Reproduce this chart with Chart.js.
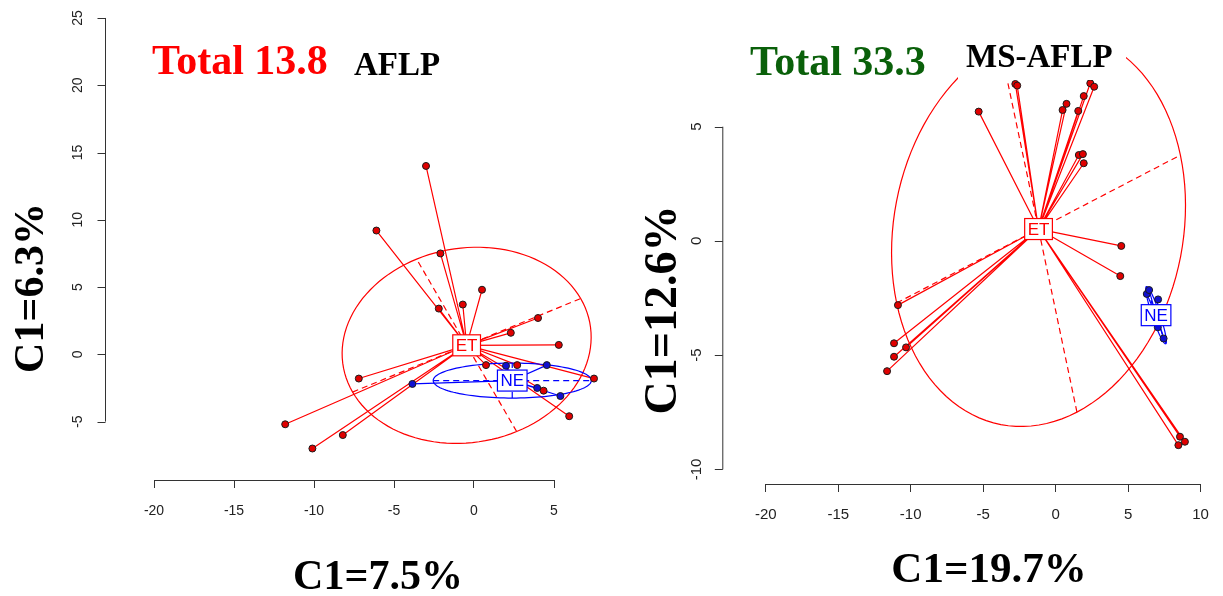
<!DOCTYPE html>
<html><head><meta charset="utf-8">
<script src="https://cdn.jsdelivr.net/npm/chart.js@4/dist/chart.umd.min.js"></script>
<style>
html,body{margin:0;padding:0;background:#fff;}
#wrap{position:relative;width:1223px;height:596px;background:#fff;}
canvas{position:absolute;left:0;top:0;}
</style></head><body>
<div id="wrap"><canvas id="c1" width="1223" height="596"></canvas><canvas id="c2" width="1223" height="596"></canvas></div>
<script>
// ===== Left panel: AFLP =====
const aflpTicksX = [-20, -15, -10, -5, 0, 5];
const aflpTicksY = [-5, 0, 5, 10, 15, 20, 25];
const aflpET_x = [-3.0, -6.1, -2.1, 0.5, -0.7, -2.2, 4.0, 2.3, 5.3, 0.75, 2.7, 7.5, -7.2, 4.35, 5.95, -8.2, -11.8, -10.1];
const aflpET_y = [14.0, 9.2, 7.5, 4.8, 3.7, 3.4, 2.7, 1.6, 0.7, -0.8, -0.8, -1.8, -1.8, -2.7, -4.6, -6.0, -5.2, -7.0];
const aflpNE_x = [-3.85, 2.0, 4.55, 3.95, 5.4];
const aflpNE_y = [-2.2, -0.85, -0.8, -2.5, -3.1];
const aflpCentroidET = [-0.46, 0.67];
const aflpCentroidNE = [2.39, -1.95];
const aflpEllipseET = [7.93, 7.13, 26];   // semi-axis 1, semi-axis 2, angle (deg)
const aflpEllipseNE = [4.94, 1.3, 0];

// ===== Right panel: MS-AFLP =====
const msTicksX = [-20, -15, -10, -5, 0, 5, 10];
const msTicksY = [-10, -5, 0, 5];
const msET_x = [-2.78, -2.65, -5.31, 2.39, 2.66, 1.94, 0.75, 0.48, 1.56, 1.6, 1.88, 1.94, 4.53, 4.46, -10.88, -11.15, -10.32, -11.15, -11.63, 8.58, 8.92, 8.47];
const msET_y = [6.87, 6.8, 5.66, 6.9, 6.75, 6.34, 6.0, 5.73, 5.69, 3.76, 3.8, 3.4, -0.22, -1.54, -2.81, -4.48, -4.66, -5.07, -5.7, -8.57, -8.79, -8.94];
const msNE_x = [6.29, 6.45, 7.07, 7.05, 7.45];
const msNE_y = [-2.32, -2.15, -2.56, -3.78, -4.27];
const msCentroidET = [-1.18, 0.52];
const msCentroidNE = [6.93, -3.25];
const msEllipseET = [10.31, 8.44, 18.3];
const msEllipseNE = [1.42, 0.25, 118.5];

const groupLabels = ['ET', 'NE'];
const RED = '#ff0000', BLUE = '#0000ff';

function toPts(xs, ys) { return xs.map((x, i) => ({ x: x, y: ys[i] })); }

function rPlugin(P) {
  return {
    id: 'r_' + P.id,
    beforeDatasetsDraw(chart) {
      const { ctx, chartArea: a, scales: { x, y } } = chart;
      const px = v => x.getPixelForValue(v), py = v => y.getPixelForValue(v);
      ctx.save();
      ctx.beginPath(); ctx.rect(a.left, a.top, a.right - a.left, a.bottom - a.top); ctx.clip();
      P.groups.forEach(g => {
        const [ea, eb, ang] = g.ell; const th = ang * Math.PI / 180;
        const ux = Math.cos(th), uy = Math.sin(th), vx = -Math.sin(th), vy = Math.cos(th);
        const [cx, cy] = g.c;
        ctx.strokeStyle = g.color; ctx.lineWidth = 1.2;
        ctx.setLineDash([]);
        ctx.beginPath();
        for (let k = 0; k <= 120; k++) {
          const t = k / 120 * 2 * Math.PI;
          const X = cx + ea * Math.cos(t) * ux + eb * Math.sin(t) * vx;
          const Y = cy + ea * Math.cos(t) * uy + eb * Math.sin(t) * vy;
          if (k === 0) ctx.moveTo(px(X), py(Y)); else ctx.lineTo(px(X), py(Y));
        }
        ctx.stroke();
        ctx.setLineDash([6, 4]);
        ctx.beginPath();
        ctx.moveTo(px(cx - ea * ux), py(cy - ea * uy)); ctx.lineTo(px(cx + ea * ux), py(cy + ea * uy));
        ctx.moveTo(px(cx - eb * vx), py(cy - eb * vy)); ctx.lineTo(px(cx + eb * vx), py(cy + eb * vy));
        ctx.stroke();
        ctx.setLineDash([]);
        ctx.beginPath();
        g.xs.forEach((xv, i) => { ctx.moveTo(px(cx), py(cy)); ctx.lineTo(px(xv), py(g.ys[i])); });
        ctx.stroke();
      });
      ctx.restore();
    },
    afterDatasetsDraw(chart) {
      const { ctx, scales: { x, y } } = chart;
      ctx.save();
      ctx.font = '17px "Liberation Sans", Arial, sans-serif';
      ctx.textAlign = 'center'; ctx.textBaseline = 'middle';
      P.groups.forEach(g => {
        const X = x.getPixelForValue(g.c[0]), Y = y.getPixelForValue(g.c[1]);
        const w = ctx.measureText(g.label).width + 6, h = 21;
        ctx.fillStyle = '#fff'; ctx.fillRect(X - w / 2, Y - h / 2, w, h);
        ctx.strokeStyle = g.color; ctx.lineWidth = 1.2; ctx.strokeRect(X - w / 2, Y - h / 2, w, h);
        ctx.fillStyle = g.color; ctx.fillText(g.label, X, Y + 1);
      });
      ctx.restore();
    },
    afterDraw(chart) {
      const { ctx, chartArea: a, scales: { x, y } } = chart;
      ctx.save();
      ctx.strokeStyle = '#333'; ctx.lineWidth = 1;
      ctx.beginPath();
      ctx.moveTo(x.getPixelForValue(P.xt[0]), a.bottom + 0.5); ctx.lineTo(x.getPixelForValue(P.xt[P.xt.length - 1]), a.bottom + 0.5);
      ctx.moveTo(a.left - 0.5, y.getPixelForValue(P.yt[0])); ctx.lineTo(a.left - 0.5, y.getPixelForValue(P.yt[P.yt.length - 1]));
      P.yt.forEach(v => {
        const yy = Math.round(y.getPixelForValue(v)) + 0.5;
        ctx.moveTo(a.left - 0.5, yy); ctx.lineTo(a.left - 8.5, yy);
      });
      ctx.stroke();
      ctx.fillStyle = '#222';
      ctx.font = P.tickFont + 'px "Liberation Sans", Arial, sans-serif';
      ctx.textAlign = 'center'; ctx.textBaseline = 'middle';
      P.yt.forEach(v => {
        ctx.save();
        ctx.translate(a.left - P.yLabOff, y.getPixelForValue(v));
        ctx.rotate(-Math.PI / 2);
        ctx.fillText(String(v), 0, 0);
        ctx.restore();
      });
      ctx.fillStyle = '#000';
      ctx.textBaseline = 'alphabetic';
      ctx.font = 'bold ' + P.xTitle.size + 'px "Liberation Serif", "Times New Roman", serif';
      ctx.textAlign = 'center';
      ctx.fillText(P.xTitle.text, P.xTitle.x, P.xTitle.y);
      ctx.save();
      ctx.font = 'bold ' + P.yTitle.size + 'px "Liberation Serif", "Times New Roman", serif';
      ctx.translate(P.yTitle.x, P.yTitle.y); ctx.rotate(-Math.PI / 2);
      ctx.fillText(P.yTitle.text, 0, 0);
      ctx.restore();
      ctx.textAlign = 'left';
      P.titles.forEach(t => {
        ctx.font = 'bold ' + t.size + 'px "Liberation Serif", "Times New Roman", serif';
        if (t.box) { ctx.fillStyle = '#fff'; ctx.fillRect(t.box[0], t.box[1], t.box[2], t.box[3]); }
        ctx.fillStyle = t.color;
        ctx.fillText(t.text, t.x, t.y);
      });
      ctx.restore();
    }
  };
}

function build(id, P) {
  return new Chart(document.getElementById(id), {
    type: 'scatter',
    data: {
      datasets: P.groups.map(g => ({
        data: toPts(g.xs, g.ys),
        pointRadius: 3.5, pointHoverRadius: 3.5,
        pointBackgroundColor: g.fill, pointBorderColor: '#1a1a1a', pointBorderWidth: 1,
        showLine: false
      }))
    },
    options: {
      responsive: false, animation: false, devicePixelRatio: 1, events: [],
      layout: { padding: P.pad },
      plugins: { legend: { display: false }, tooltip: { enabled: false } },
      scales: {
        x: {
          type: 'linear', min: P.xr[0], max: P.xr[1],
          afterBuildTicks: ax => { ax.ticks = P.xt.map(v => ({ value: v })); },
          afterFit: s => { s.height = 40; },
          grid: { drawOnChartArea: false, drawTicks: true, tickLength: 8, color: '#333', lineWidth: 1 },
          border: { display: false },
          ticks: { font: { family: 'Liberation Sans', size: P.tickFont }, color: '#222', padding: P.xPad, maxRotation: 0, minRotation: 0, autoSkip: false, callback: v => String(v) }
        },
        y: {
          type: 'linear', min: P.yr[0], max: P.yr[1],
          afterBuildTicks: ax => { ax.ticks = P.yt.map(v => ({ value: v })); },
          afterFit: s => { s.width = 8; },
          grid: { drawOnChartArea: false, drawTicks: false, color: '#333', lineWidth: 1 },
          border: { display: false },
          ticks: { display: false }
        }
      }
    },
    plugins: [rPlugin(P)]
  });
}

build('c1', {
  id: 'aflp',
  xr: [-23, 8.3], yr: [-9.34, 26],
  xt: aflpTicksX, yt: aflpTicksY,
  pad: { left: 98, right: 616.2, top: 2.2, bottom: 76 },
  tickFont: 14, xPad: 15, yLabOff: 28,
  groups: [
    { label: groupLabels[0], color: RED, fill: '#e00000', xs: aflpET_x, ys: aflpET_y, c: aflpCentroidET, ell: aflpEllipseET },
    { label: groupLabels[1], color: BLUE, fill: '#1010d0', xs: aflpNE_x, ys: aflpNE_y, c: aflpCentroidNE, ell: aflpEllipseNE }
  ],
  xTitle: { text: 'C1=7.5%', size: 42, x: 378, y: 589 },
  yTitle: { text: 'C1=6.3%', size: 42, x: 43, y: 288 },
  titles: [
    { text: 'Total 13.8', size: 42, color: '#ff0000', x: 152, y: 74 },
    { text: 'AFLP', size: 33, color: '#000', x: 354, y: 75 }
  ]
});

build('c2', {
  id: 'ms',
  xr: [-22.93, 10.7], yr: [-10.64, 9.6],
  xt: msTicksX, yt: msTicksY,
  pad: { left: 715.3, right: 1.6, top: 21.6, bottom: 72 },
  tickFont: 15, xPad: 14, yLabOff: 26.6,
  groups: [
    { label: groupLabels[0], color: RED, fill: '#e00000', xs: msET_x, ys: msET_y, c: msCentroidET, ell: msEllipseET },
    { label: groupLabels[1], color: BLUE, fill: '#1010d0', xs: msNE_x, ys: msNE_y, c: msCentroidNE, ell: msEllipseNE }
  ],
  xTitle: { text: 'C1=19.7%', size: 43, x: 989, y: 582 },
  yTitle: { text: 'C1=12.6%', size: 46, x: 676, y: 310 },
  titles: [
    { text: 'Total 33.3', size: 42, color: '#0a600a', x: 750, y: 75 },
    { text: 'MS-AFLP', size: 33, color: '#000', x: 966, y: 67, box: [958, 18, 168, 62] }
  ]
});
</script>
</body></html>
